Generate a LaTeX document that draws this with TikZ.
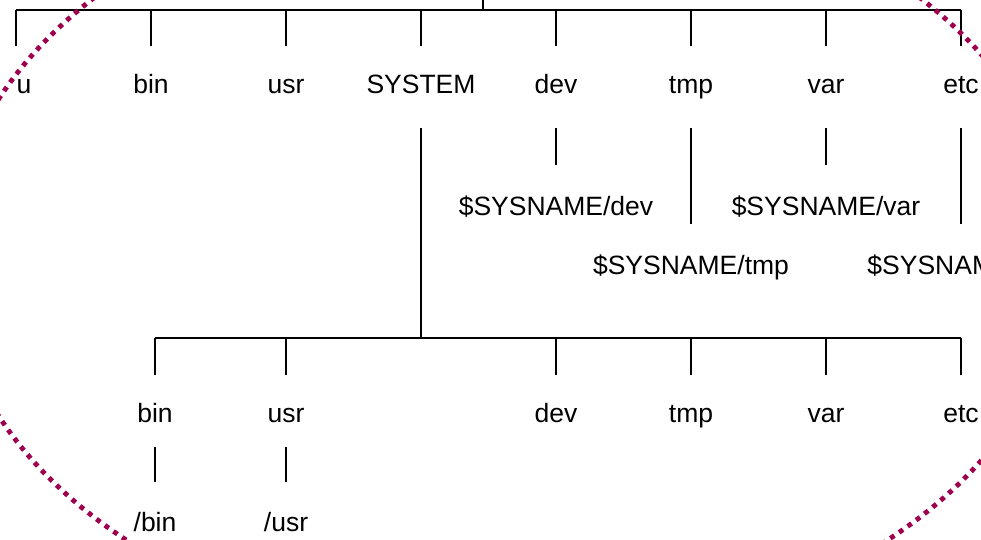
\documentclass[tikz,border=0pt]{standalone}
\usepackage{fontspec}
\setmainfont{Liberation Sans}
\definecolor{ringred}{RGB}{158,0,78}
\tikzset{
  dir/.style={anchor=base, inner sep=0pt, font=\fontsize{13.25}{15}\selectfont},
  top 1/.style={anchor=base west},
  ring/.style={draw=ringred, line width=2.4pt, dash pattern=on 2.4pt off 2.85pt},
}
\begin{document}
\begin{tikzpicture}[x=0.5pt, y=-0.5pt, line width=0.7pt]
\useasboundingbox (0,0) rectangle (981,540);
\clip (0,0) rectangle (981,540);
% root directory and its children
\coordinate (root) at (483,-20);
\coordinate (topbar) at (483,10);
\draw (root) -- (topbar);
\foreach \n [count=\i] in {u,bin,usr,SYSTEM,dev,tmp,var,etc} {
  \coordinate (tb-\i) at ({16+135*(\i-1)},10);
  \node [dir, top \i/.try] (top-\i) at ({16+135*(\i-1)},94) {\n};
}
\draw (tb-1) -- (tb-8);
\foreach \i in {1,...,8}
  \draw (tb-\i) -- ([yshift=24pt]top-\i.base -| tb-\i);
% per-system links
\foreach \d/\x/\y in {dev/556/215, tmp/691/274, var/826/215, etc/961/274}
  \node [dir] (sys-\d) at (\x,\y) {\$SYSNAME/\d};
\foreach \d/\i in {dev/5, tmp/6, var/7, etc/8}
  \draw ([yshift=-17pt]top-\i.base) -- ([yshift=25pt]sys-\d.base);
% the SYSTEM subtree
\coordinate (lowbar) at (421,338);
\draw ([yshift=-17pt]top-4.base) -- (lowbar);
\foreach \n/\x [count=\i] in {bin/155, usr/286, dev/556, tmp/691, var/826, etc/961} {
  \coordinate (lb-\i) at (\x,338);
  \node [dir] (low-\i) at (\x,422) {\n};
  \draw (lb-\i) -- ([yshift=23.5pt]low-\i.base);
}
\draw (lb-1) -- (lb-6);
\foreach \n/\x [count=\i] in {bin/155, usr/286} {
  \node [dir] (abs-\i) at (\x,531) {/\n};
  \draw ([yshift=-12.5pt]low-\i.base) -- ([yshift=24.5pt]abs-\i.base);
}
% shared part
\draw [ring] (507,257.5) ellipse [x radius=278.5pt, y radius=193.5pt];
\end{tikzpicture}
\end{document}
